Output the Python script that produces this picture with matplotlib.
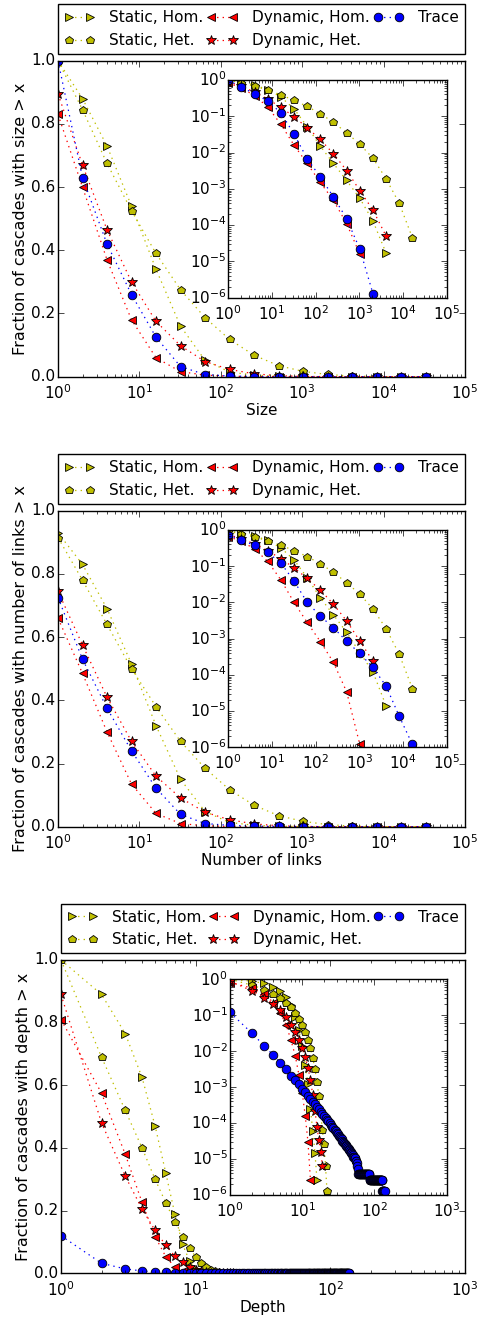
import numpy as np
import matplotlib
matplotlib.use('Agg')
import matplotlib.pyplot as plt

plt.style.use('classic')
plt.rcParams['font.family'] = ['DejaVu Sans']
plt.rcParams['font.size'] = 11
plt.rcParams['mathtext.fontset'] = 'dejavusans'

# series names / looks, in drawing order
labels = ['Static, Hom.', 'Static, Het.', 'Dynamic, Hom.', 'Dynamic, Het.', 'Trace']
markers = ['>', 'p', '<', '*', 'o']
colors = ['y', 'y', 'r', 'r', 'b']

# cascade size (bins at powers of two)
size_x = [1, 2, 4, 8, 16, 32, 64, 128, 256, 512, 1024, 2048, 4096, 8192, 16384, 32768]
size_static_hom = [1.0, 0.88, 0.73, 0.54, 0.34, 0.16, 0.052, 0.015, 0.005, 0.0017,
                   0.00055, 0.00013, 1.7e-5, 0, 0, 0]
size_static_het = [1.0, 0.845, 0.675, 0.525, 0.39, 0.275, 0.187, 0.118, 0.068, 0.035,
                   0.017, 0.007, 0.0019, 0.0004, 4.5e-5, 0]
size_dyn_hom = [0.83, 0.60, 0.37, 0.18, 0.06, 0.016, 0.005, 0.0015, 0.00048, 0.00011,
                1.6e-5, 0, 0, 0, 0, 0]
size_dyn_het = [0.895, 0.67, 0.465, 0.30, 0.175, 0.098, 0.048, 0.023, 0.0092, 0.0032,
                0.0009, 0.00026, 5e-5, 0, 0, 0]
size_trace = [1.0, 0.63, 0.42, 0.26, 0.125, 0.032, 0.0068, 0.0021, 0.0006, 0.00015,
              2.2e-5, 1.3e-6, 0, 0, 0, 0]

# number of links
links_x = [1, 2, 4, 8, 16, 32, 64, 128, 256, 512, 1024, 2048, 4096, 8192, 16384, 32768]
links_static_hom = [0.93, 0.83, 0.69, 0.515, 0.32, 0.15, 0.048, 0.0135, 0.0045, 0.0015,
                    0.00041, 0.00012, 1.4e-5, 0, 0, 0]
links_static_het = [0.915, 0.78, 0.64, 0.50, 0.38, 0.27, 0.185, 0.117, 0.068, 0.035,
                    0.017, 0.0066, 0.0019, 0.00037, 4.2e-5, 0]
links_dyn_hom = [0.66, 0.485, 0.30, 0.135, 0.042, 0.010, 0.0028, 0.00083, 0.00022, 3.4e-5,
                 1.2e-6, 0, 0, 0, 0, 0]
links_dyn_het = [0.745, 0.575, 0.41, 0.27, 0.16, 0.091, 0.046, 0.022, 0.0089, 0.0031,
                 0.00086, 0.00024, 0, 0, 0, 0]
links_trace = [0.725, 0.53, 0.375, 0.24, 0.122, 0.039, 0.010, 0.0042, 0.002, 0.00085,
               0.00039, 0.00016, 4.9e-5, 7.2e-6, 1.2e-6, 0]

# depth (one point per integer depth, starting at 1)
depth_static_hom = [1.0, 0.89, 0.765, 0.625, 0.47, 0.32, 0.19, 0.092, 0.04, 0.014,
                    0.0042, 0.0012, 0.00025, 6e-5, 1.5e-5, 2.6e-6]
depth_static_het = [1.0, 0.69, 0.52, 0.40, 0.30, 0.225, 0.165, 0.117, 0.08, 0.053,
                    0.034, 0.021, 0.012, 0.0065, 0.0032, 0.0014, 0.00055, 0.0002, 6.3e-5,
                    2.7e-5, 6.6e-6, 1.3e-6]
depth_dyn_hom = [0.81, 0.575, 0.38, 0.226, 0.117, 0.053, 0.02, 0.0075, 0.0022, 0.0007,
                 0.00016, 3e-5, 2.6e-6]
depth_dyn_het = [0.89, 0.48, 0.31, 0.205, 0.137, 0.089, 0.055, 0.035, 0.021, 0.012,
                 0.0068, 0.0035, 0.0016, 0.0006, 0.00022, 8e-5, 3.3e-5, 1.6e-5, 6.6e-6]
depth_trace = [
    0.12, 0.032, 0.014, 0.0076, 0.0047, 0.0031, 0.0021, 0.0016,
    1.19e-3, 9.1e-4, 7.2e-4, 5.8e-4, 4.7e-4, 3.9e-4, 3.3e-4, 2.8e-4,
    2.4e-4, 2.07e-4, 1.8e-4, 1.59e-4, 1.41e-4, 1.25e-4, 1.11e-4, 1.0e-4,
    8.9e-5, 8.0e-5, 7.2e-5, 6.5e-5, 5.9e-5, 5.4e-5, 4.9e-5, 4.5e-5, 4.1e-5, 3.8e-5,
    3.5e-5, 3.2e-5, 3.0e-5, 2.8e-5, 2.6e-5, 2.4e-5, 2.25e-5, 2.1e-5, 1.98e-5, 1.86e-5,
    1.74e-5, 1.63e-5, 1.54e-5, 1.46e-5, 1.37e-5,
    1.3e-5, 1.17e-5, 1.17e-5, 1.04e-5, 1.04e-5, 9.1e-6, 9.1e-6, 7.8e-6, 6.5e-6, 5.2e-6,
    3.9e-6, 3.9e-6, 3.9e-6, 3.9e-6, 3.9e-6, 3.9e-6, 3.9e-6, 3.9e-6, 3.9e-6, 3.9e-6,
    3.9e-6, 3.9e-6, 3.9e-6, 3.9e-6, 3.9e-6, 3.9e-6, 3.9e-6, 3.9e-6, 3.9e-6, 3.9e-6,
    3.9e-6, 3.9e-6, 3.9e-6, 3.9e-6, 3.9e-6, 3.9e-6,
    2.6e-6, 2.6e-6, 2.6e-6, 2.6e-6, 2.6e-6, 2.6e-6, 2.6e-6, 2.6e-6, 2.6e-6, 2.6e-6,
    2.6e-6, 2.6e-6, 2.6e-6, 2.6e-6, 2.6e-6, 2.6e-6, 2.6e-6, 2.6e-6, 2.6e-6, 2.6e-6,
    2.6e-6, 2.6e-6, 2.6e-6, 2.6e-6, 2.6e-6, 2.6e-6, 2.6e-6, 2.6e-6, 2.6e-6, 2.6e-6,
    2.6e-6, 2.6e-6, 2.6e-6, 2.6e-6, 2.6e-6, 2.6e-6, 2.6e-6, 2.6e-6, 2.6e-6, 2.6e-6,
    2.6e-6, 2.6e-6, 2.6e-6,
    1.3e-6, 1.3e-6, 1.3e-6, 1.3e-6, 1.3e-6, 1.3e-6, 1.3e-6, 1.3e-6, 1.3e-6, 1.3e-6,
]


def depth_axis(vals):
    return np.arange(1, len(vals) + 1)


def draw_panel(fig, main_rect, inset_rect, data, xmax, xlabel, ylabel):
    ax = fig.add_axes(main_rect)
    ins = fig.add_axes(inset_rect)
    for (x, y), lab, mk, c in zip(data, labels, markers, colors):
        x = np.asarray(x, dtype=float)
        y = np.asarray(y, dtype=float)
        ms = 7 if mk == '*' else 6.2
        kw = dict(linestyle=':', lw=0.9, marker=mk, color=c, mec='k', mew=0.6, ms=ms)
        ax.plot(x, y, label=lab, **kw)
        pos = y > 0
        ins.plot(x[pos], y[pos], **kw)
    ax.set_xscale('log')
    ax.set_xlim(1, xmax)
    ax.set_ylim(0, 1)
    ax.tick_params(axis='x', which='both', pad=5)
    ax.tick_params(axis='y', which='both', pad=2)
    ax.set_xlabel(xlabel, labelpad=0.5)
    ax.set_ylabel(ylabel, labelpad=2, fontsize=11.5)
    ins.set_xscale('log')
    ins.set_yscale('log')
    ins.set_xlim(1, xmax)
    ins.set_ylim(1e-6, 1)
    ins.tick_params(axis='x', which='both', pad=4.5)
    ins.tick_params(axis='y', which='both', pad=1.5)
    ax.legend(loc='lower left', bbox_to_anchor=(0, 1.021, 1, 0.2), mode='expand',
              ncol=3, borderaxespad=0, numpoints=2, fontsize=11,
              handlelength=2.0, handletextpad=0.95, columnspacing=0.4,
              labelspacing=0.5, borderpad=0.4)


fig = plt.figure(figsize=(4.78, 13.18), dpi=100)
fig.patch.set_facecolor('white')

W, H = 478.0, 1318.0


def rect(l, t, r, b):
    return [l / W, 1 - b / H, (r - l) / W, (b - t) / H]


draw_panel(fig, rect(58, 60.7, 465, 376.7), rect(228.3, 80, 446.7, 297.7),
           [(size_x, size_static_hom), (size_x, size_static_het), (size_x, size_dyn_hom),
            (size_x, size_dyn_het), (size_x, size_trace)],
           1e5, 'Size', 'Fraction of cascades with size > x')

draw_panel(fig, rect(58, 510.7, 465, 826.7), rect(228.3, 530, 446.7, 747.3),
           [(links_x, links_static_hom), (links_x, links_static_het), (links_x, links_dyn_hom),
            (links_x, links_dyn_het), (links_x, links_trace)],
           1e5, 'Number of links', 'Fraction of cascades with number of links > x')

draw_panel(fig, rect(61, 960, 465, 1273.3), rect(230, 979.3, 446.7, 1195),
           [(depth_axis(depth_static_hom), depth_static_hom),
            (depth_axis(depth_static_het), depth_static_het),
            (depth_axis(depth_dyn_hom), depth_dyn_hom),
            (depth_axis(depth_dyn_het), depth_dyn_het),
            (depth_axis(depth_trace), depth_trace)],
           1e3, 'Depth', 'Fraction of cascades with depth > x')

fig.savefig('out.png', dpi=100, facecolor='white')
